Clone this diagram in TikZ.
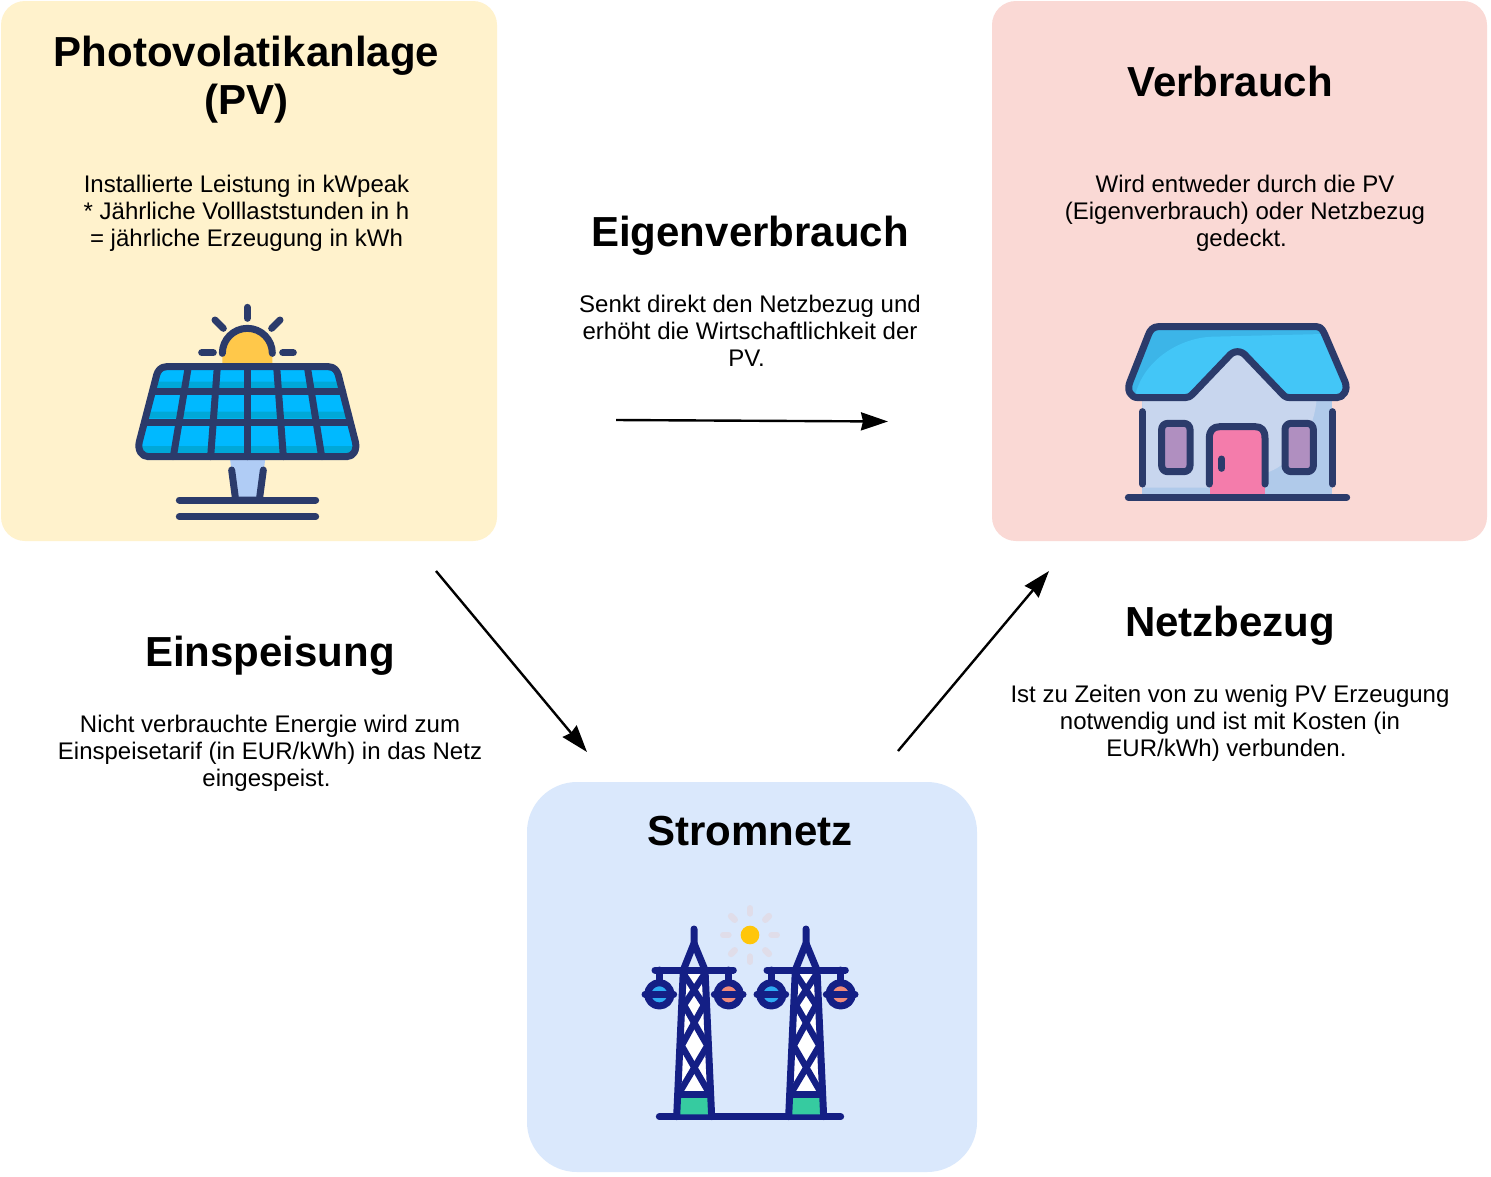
\documentclass[tikz,border=0pt]{standalone}
\usepackage{fontspec}
\usepackage{xcolor}
\usetikzlibrary{positioning, arrows.meta}
\setmainfont{Liberation Sans}

\definecolor{pvyellow}{HTML}{FFF2CC}
\definecolor{userred}{HTML}{FAD9D5}
\definecolor{gridblue}{HTML}{DAE8FC}
\definecolor{navy}{HTML}{2B3B6B}
\definecolor{towerblue}{HTML}{141F85}
\definecolor{sunfill}{HTML}{FFC84A}
\definecolor{cellblue}{HTML}{00B9FF}
\definecolor{celldark}{HTML}{00A8D8}
\definecolor{standblue}{HTML}{B0CCF5}
\definecolor{roofblue}{HTML}{43C6F7}
\definecolor{roofdark}{HTML}{3CB5E8}
\definecolor{walllight}{HTML}{C8D6EE}
\definecolor{walldark}{HTML}{B0CAEA}
\definecolor{doorpink}{HTML}{F47CAB}
\definecolor{windowviolet}{HTML}{B08FC0}
\definecolor{smallsun}{HTML}{FFC60A}
\definecolor{raygray}{HTML}{E0DDE9}
\definecolor{footgreen}{HTML}{36CBA0}
\definecolor{bulbblue}{HTML}{2EAAF2}
\definecolor{bulbred}{HTML}{F08A7A}

\begin{document}
\begin{tikzpicture}[x=1pt,y=-1pt,
    flow/.style={-{Stealth[length=27pt,width=18pt,inset=2pt]},line width=2.4pt},
    panelbox/.style={fill=#1,rounded corners=24pt},
    headline/.style={font=\fontsize{42}{48}\selectfont\bfseries,align=center},
    bodytext/.style={font=\fontsize{24}{27}\selectfont,align=center},
    icon/.style={line width=7pt,line cap=round,line join=round,draw=navy},
    tower/.style={line width=7pt,line cap=round,line join=round,draw=towerblue}]
  \useasboundingbox (0,0) rectangle (1491,1176);
  \fill[white] (0,0) rectangle (1491,1176);

  % boxes
  \path[panelbox=pvyellow] (1,1) rectangle (497,541);
  \path[panelbox=userred] (992,1) rectangle (1487,541);
  \path[panelbox=gridblue,rounded corners=50pt] (527,782) rectangle (977,1172);

  % texts
  \node[headline] (pvtitle) at (246.5,80) {Photovolatikanlage\\(PV)};
  \node[bodytext] (pvtext) [below of=pvtitle, node distance=133pt] {Installierte Leistung in kWpeak\\* Jährliche Volllaststunden in h\\= jährliche Erzeugung in kWh};
  \node[headline] (usetitle) at (1230,81) {Verbrauch};
  \node[bodytext] (usetext) at (1245,213) {Wird entweder durch die PV\\(Eigenverbrauch) oder Netzbezug\\gedeckt.\hspace*{7pt}};
  \node[headline] (selftitle) at (750,236) {Eigenverbrauch};
  \node[bodytext] (selftext) at (750,331) {Senkt direkt den Netzbezug und\\erhöht die Wirtschaftlichkeit der\\PV.\hspace*{7pt}};
  \node[headline] (feedtitle) at (270,656) {Einspeisung};
  \node[bodytext] (feedtext) at (270,753) {Nicht verbrauchte Energie wird zum\\Einspeisetarif (in EUR/kWh) in das Netz\\eingespeist.\hspace*{7pt}};
  \node[headline] (buytitle) at (1230,626) {Netzbezug};
  \node[bodytext] (buytext) at (1230,723) {Ist zu Zeiten von zu wenig PV Erzeugung\\notwendig und ist mit Kosten (in\\EUR/kWh) verbunden.\hspace*{7pt}};
  \node[headline] (gridtitle) at (750,831) {Stromnetz};

  % arrows
  \coordinate (selfa) at (616,420);
  \coordinate (selfb) at (888,421.5);
  \coordinate (feeda) at (436,571);
  \coordinate (feedb) at (587,752);
  \coordinate (buya) at (898,751);
  \coordinate (buyb) at (1049,571);
  \draw[flow] (selfa) -- (selfb);
  \draw[flow] (feeda) -- (feedb);
  \draw[flow] (buya) -- (buyb);

  % solar panel
  \begin{scope}[shift={(120,290)},scale=1/3]
    \fill[sunfill] (307,240) -- (307,190) arc[start angle=180,end angle=360,radius=75] -- (457,240) -- cycle;
    \draw[icon] (307,190) arc[start angle=180,end angle=360,radius=75];
    \draw[icon] (382,52) -- (382,85);
    \draw[icon] (285,90) -- (310,115);
    \draw[icon] (480,90) -- (455,115);
    \draw[icon] (245,188) -- (280,188);
    \draw[icon] (488,188) -- (520,188);
    \fill[standblue] (330,505) -- (436,505) -- (420,630) -- (345,630) -- cycle;
    \fill[cellblue] (140,230) -- (625,230) .. controls (645,230) and (652,245) .. (655,255) -- (706,455) .. controls (712,480) and (700,500) .. (680,500) -- (85,500) .. controls (65,500) and (52,480) .. (58,455) -- (110,255) .. controls (113,245) and (120,230) .. (140,230) -- cycle;
    \fill[celldark] (100,275) -- (665,275) -- (670,295) -- (95,295) -- cycle;
    \fill[celldark] (80,365) -- (685,365) -- (690,385) -- (75,385) -- cycle;
    \fill[celldark] (62,468) -- (702,468) -- (700,490) -- (70,490) -- cycle;
    \draw[icon] (140,230) -- (625,230) .. controls (645,230) and (652,245) .. (655,255) -- (706,455) .. controls (712,480) and (700,500) .. (680,500) -- (85,500) .. controls (65,500) and (52,480) .. (58,455) -- (110,255) .. controls (113,245) and (120,230) .. (140,230) -- cycle;
    \draw[icon] (100,305) -- (668,305);
    \draw[icon] (78,397) -- (688,397);
    \draw[icon] (205,230) -- (160,500);
    \draw[icon] (292,230) -- (272,500);
    \draw[icon] (382,230) -- (382,500);
    \draw[icon] (470,230) -- (490,500);
    \draw[icon] (562,230) -- (605,500);
    \draw[icon] (335,540) -- (347,630) -- (418,630) -- (430,540);
    \draw[icon] (178,630) -- (587,630);
    \draw[icon] (178,680) -- (587,680);
  \end{scope}

  % house
  \begin{scope}[shift={(1110,310)},scale=1/3]
    \fill[walldark] (97,265) rectangle (667,552);
    \fill[walllight] (97,265) -- (355,140) -- (382,125) -- (410,140) -- (620,265) .. controls (615,350) and (560,460) .. (465,490) -- (465,533) -- (97,533) -- cycle;
    \fill[doorpink] (300,350) rectangle (465,552);
    \fill[roofdark] (145,50) -- (620,50) .. controls (635,50) and (640,65) .. (645,75) -- (705,215) .. controls (715,240) and (700,263) .. (680,263) -- (540,263) .. controls (525,263) and (520,255) .. (515,250) -- (410,140) .. controls (395,120) and (370,120) .. (355,140) -- (250,250) .. controls (240,260) and (235,263) .. (225,263) -- (85,263) .. controls (60,263) and (50,240) .. (60,215) -- (115,75) .. controls (120,60) and (130,50) .. (145,50) -- cycle;
    \fill[roofblue] (75,258) .. controls (100,150) and (210,82) .. (310,80) -- (640,72) -- (705,215) .. controls (715,240) and (700,263) .. (680,263) -- (540,263) .. controls (525,263) and (520,255) .. (515,250) -- (410,140) .. controls (395,120) and (370,120) .. (355,140) -- (250,250) .. controls (240,260) and (235,263) .. (225,263) -- cycle;
    \draw[icon] (145,50) -- (620,50) .. controls (635,50) and (640,65) .. (645,75) -- (705,215) .. controls (715,240) and (700,263) .. (680,263) -- (540,263) .. controls (525,263) and (520,255) .. (515,250) -- (410,140) .. controls (395,120) and (370,120) .. (355,140) -- (250,250) .. controls (240,260) and (235,263) .. (225,263) -- (85,263) .. controls (60,263) and (50,240) .. (60,215) -- (115,75) .. controls (120,60) and (130,50) .. (145,50) -- cycle;
    \draw[icon,fill=windowviolet,rounded corners=6pt] (155,340) rectangle (240,485);
    \draw[icon,fill=windowviolet,rounded corners=6pt] (525,340) rectangle (610,485);
    \draw[icon] (298,522) -- (298,385) .. controls (298,360) and (310,350) .. (330,350) -- (435,350) .. controls (455,350) and (465,360) .. (465,385) -- (465,522);
    \draw[icon] (335,447) -- (335,475);
    \draw[icon] (97,305) -- (97,522);
    \draw[icon] (667,305) -- (667,522);
    \draw[icon] (55,562) -- (710,562);
  \end{scope}

  % power lines
  \begin{scope}[shift={(630,895)},scale=1/3]
    \fill[smallsun] (360,120) circle (28);
    \foreach \ang in {0,45,...,315}
      \draw[line width=6.6pt,line cap=round,draw=raygray] (360,120) ++(\ang:65) -- ++(\ang:15);
    \draw[tower] (88,665) -- (632,665);
    \foreach \dx in {0,336} {
      \begin{scope}[xshift=\dx]
        \fill[white] (160,232) -- (225,232) -- (240,600) -- (145,600) -- cycle;
        \fill[footgreen] (150,608) -- (235,608) -- (240,658) -- (145,658) -- cycle;
        \draw[tower,line width=6.4pt] (160,235) -- (222,330) -- (155,452) -- (235,590);
        \draw[tower,line width=6.4pt] (225,235) -- (162,330) -- (232,452) -- (150,590);
        \draw[tower] (192,102) -- (192,145) -- (160,225) -- (140,665);
        \draw[tower] (192,145) -- (225,225) -- (245,665);
        \draw[tower] (145,598) -- (240,598);
        \draw[tower] (75,225) -- (310,225);
        \draw[tower] (88,225) -- (88,262);
        \draw[tower] (296,225) -- (296,262);
        \draw[tower,fill=bulbblue] (88,298) circle (35);
        \draw[tower,fill=bulbred] (296,298) circle (35);
        \draw[tower] (45,298) -- (131,298);
        \draw[tower] (253,298) -- (339,298);
      \end{scope}
    }
  \end{scope}
\end{tikzpicture}
\end{document}
